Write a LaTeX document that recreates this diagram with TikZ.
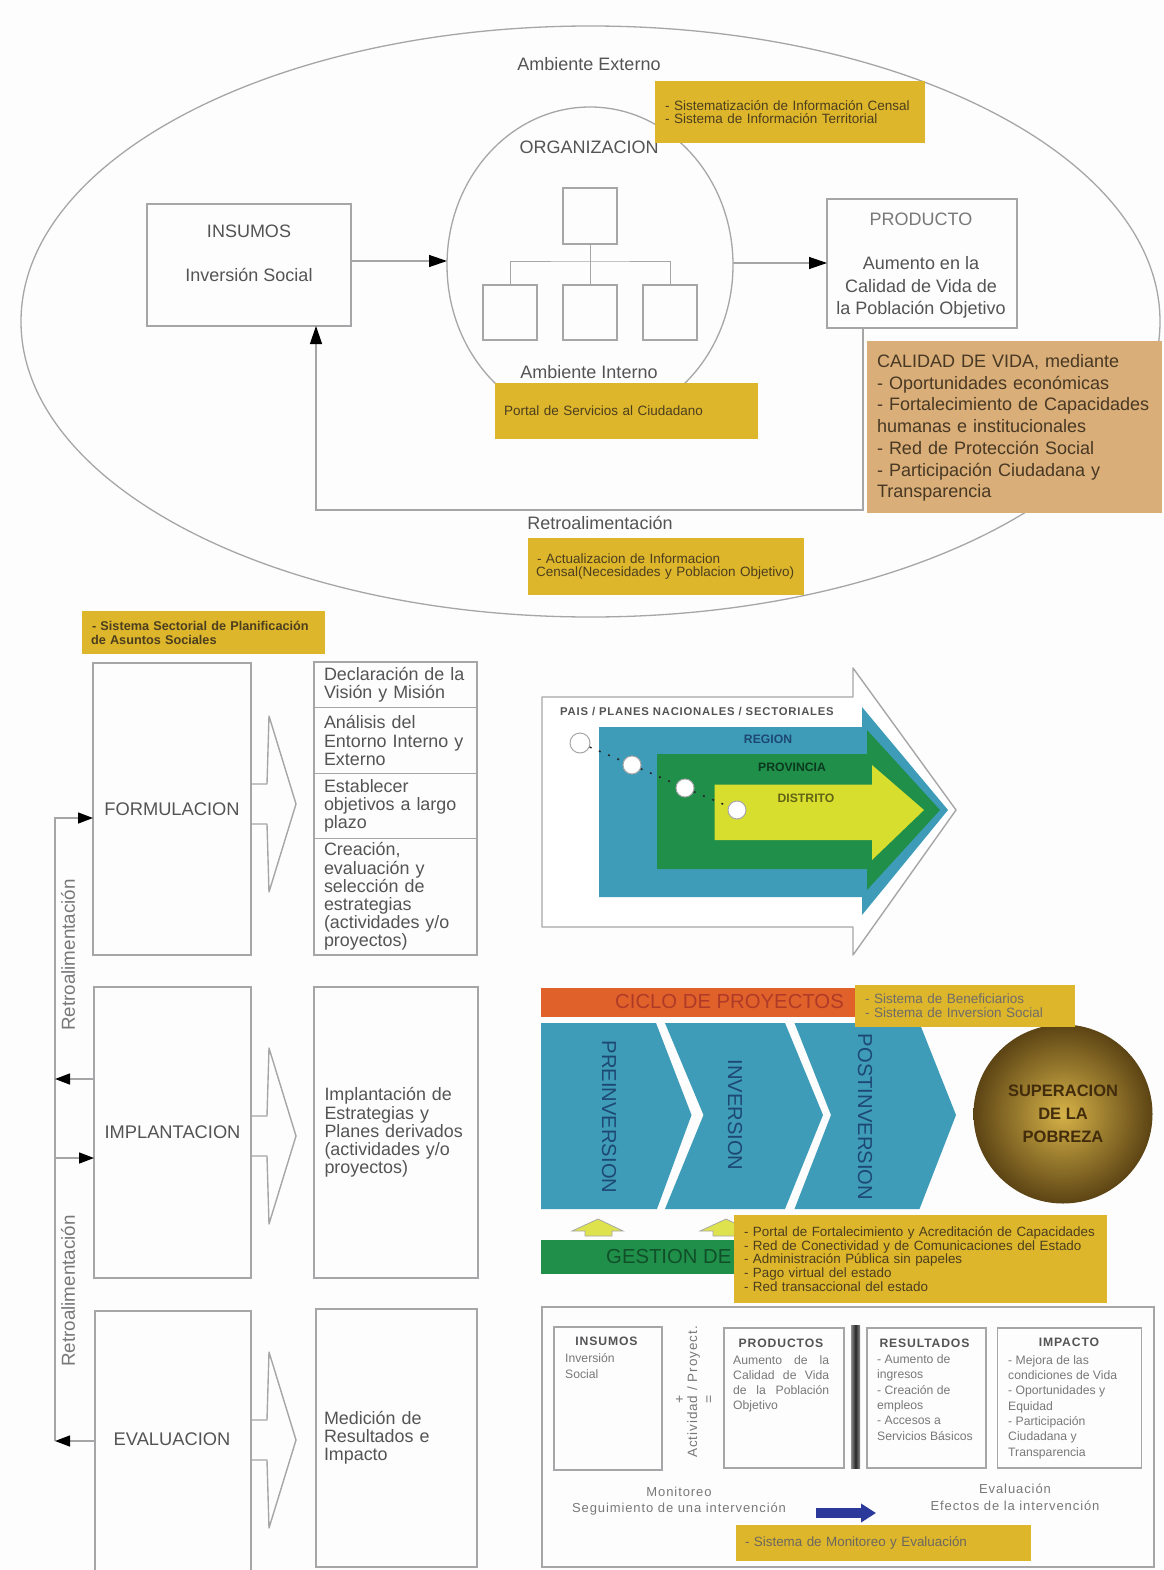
\documentclass[tikz,border=0pt]{standalone}
\usepackage{fontspec}
\setmainfont{Liberation Sans}
\newfontfamily\widefont[LetterSpace=7]{Liberation Sans}
\usepackage{xcolor}
\usetikzlibrary{arrows.meta, positioning, calc, shapes.geometric}
\definecolor{paper}{RGB}{253,253,253}
\definecolor{linegray}{RGB}{166,166,168}
\definecolor{inkgray}{RGB}{84,84,86}
\definecolor{softgray}{RGB}{120,120,122}
\definecolor{sysyellow}{RGB}{221,182,43}
\definecolor{sysink}{RGB}{76,62,30}
\definecolor{tanbox}{RGB}{217,174,120}
\definecolor{tanink}{RGB}{72,56,36}
\definecolor{tealblue}{RGB}{62,156,184}
\definecolor{leafgreen}{RGB}{31,143,74}
\definecolor{limeyellow}{RGB}{216,222,46}
\definecolor{redorange}{RGB}{224,98,42}
\definecolor{cicloink}{RGB}{176,58,40}
\definecolor{navyink}{RGB}{30,72,116}
\definecolor{fatblue}{RGB}{43,58,154}
\definecolor{ballmid}{RGB}{214,178,72}
\definecolor{ballrim}{RGB}{92,68,20}
\definecolor{ballink}{RGB}{66,44,12}
\newcommand{\fsz}[2]{\fontsize{#1}{#2}\selectfont}

\begin{document}
\begin{tikzpicture}[
  x=1pt,y=-1pt,
  box/.style={
    rectangle, draw=linegray, line width=1.4pt, fill=paper,
    inner sep=0pt, outer sep=0pt, text=inkgray
  },
  stackbox/.style={
    box, inner xsep=10pt, text width=143pt, align=left, minimum width=163pt,
    font=\fsz{17.9}{18.2}
  },
  stagebox/.style={box, font=\fsz{18.3}{18.5}},
  sysbox/.style={
    rectangle, fill=sysyellow, inner ysep=0pt, outer sep=0pt,
    align=left, text=sysink, font=\fsz{13.5}{13.6}
  },
  oval/.style={
    ellipse, draw=linegray, line width=1.3pt, inner sep=0pt, outer sep=0pt
  },
  arrow/.style={-{Triangle[length=18pt,width=12pt,black]}, draw=linegray, line width=1.3pt},
  railarrow/.style={-{Triangle[length=15pt,width=11pt,black]}, draw=linegray, line width=1.4pt},
  label/.style={text=inkgray, font=\fsz{18}{18}, inner sep=0pt},
  small/.style={text=softgray, align=left, inner sep=0pt, anchor=west, font=\fsz{12.2}{15.3}},
  head/.style={text=inkgray, inner sep=0pt, font=\widefont\bfseries\fsz{12.2}{13}},
  nest/.style={text=#1, inner sep=0pt, font=\bfseries\fsz{12.2}{12}},
  chevron/.style={fill=tealblue},
  stagetext/.style={rotate=-90, text=navyink, inner sep=0pt, font=\fsz{20.2}{20}},
  dot/.style={circle, draw=linegray, fill=white, line width=1pt, inner sep=0pt, minimum size=#1}
]
\useasboundingbox[fill=paper] (0,0) rectangle (1163,1570);

% ---- Upper panel: environment and organisation ----
\node[oval, minimum width=1139pt, minimum height=591pt] (externo) at (590.5,321.5) {};
\node[oval, minimum width=286pt, minimum height=316pt] (org) at (590,265) {};
\node[label] (externoT) at (589,64) {Ambiente Externo};
\node[label] (orgT) at (589,147) {ORGANIZACION};
\node[label] (internoT) at (589,372) {Ambiente Interno};
\node[label] (retroT) at (600,523) {Retroalimentación};

\node[box, minimum width=204pt, minimum height=122pt] (insumos) at (249,265) {};
\node[label] (insumosT) at (249,231) {INSUMOS};
\node[label] (inversionT) at (249,275) {Inversión Social};
\node[box, minimum width=190pt, minimum height=129pt] (producto) at (922,263.5) {};
\node[label, text=softgray] (productoT) at (921,219.5) {PRODUCTO};
\node[label, align=center, font=\fsz{18}{22.4}] (aumentoT) at (921,287.5) {Aumento en la\\Calidad de Vida de\\la Población Objetivo};

% ---- Organisation chart inside the circle ----
\node[box, line width=1.1pt, minimum width=54pt, minimum height=56pt] (jefe) at (590,216) {};
\foreach \o/\x in {o1/510, o2/590, o3/670}{
  \node[box, line width=1.1pt, minimum width=54pt, minimum height=55pt] (\o) at (\x,312.5) {};
}
\coordinate (orgBus) at (590,261);
\draw[draw=linegray, line width=1pt] (jefe.south) -- (o2.north);
\draw[draw=linegray, line width=1pt] (o1.north) |- (orgBus) -| (o3.north);

\coordinate (inTip) at ($(org.west)+(0,-4)$);
\coordinate (outStart) at ($(org.east)+(0,-2)$);
\draw[arrow] (inTip -| insumos.east) -- (inTip);
\draw[arrow] (outStart) -- (outStart -| producto.west);

% ---- Feedback below the organisation ----
\coordinate (fbStart) at ($(producto.south east)+(-154,0)$);
\coordinate (fbEnd) at ($(insumos.south)+(67,0)$);
\draw[arrow] (fbStart) -- ++(0,182) -| (fbEnd);

% ---- Yellow system boxes, upper panel ----
\node[sysbox, minimum width=270pt, minimum height=62pt, inner xsep=10pt, text width=250pt] (sysCensal) at (790,112)
  {- Sistematización de Información Censal\\- Sistema de Información Territorial};
\node[sysbox, minimum width=263pt, minimum height=56pt, inner xsep=9pt, text width=245pt] (sysPortal) at (626.5,411)
  {Portal de Servicios al Ciudadano};
\node[sysbox, minimum width=276pt, minimum height=57pt, inner xsep=8pt, text width=260pt] (sysActual) at (666,566.5)
  {\hspace*{1pt}- Actualizacion de Informacion\\Censal(Necesidades y Poblacion Objetivo)};
\node[rectangle, fill=tanbox, minimum width=295pt, minimum height=172pt, inner xsep=10pt, inner ysep=0pt,
  text width=275pt, align=left, text=tanink, font=\fsz{18}{21.7}] (calidad) at (1014.5,427)
  {\rule{0pt}{15pt}CALIDAD DE VIDA, mediante\\- Oportunidades económicas\\- Fortalecimiento de Capacidades\\humanas e institucionales\\- Red de Protección Social\\- Participación Ciudadana y\\Transparencia};

% ---- Stages on the left ----
\node[sysbox, minimum width=243pt, minimum height=43pt, inner xsep=9pt, text width=225pt, font=\bfseries\fsz{12.7}{14}] (sysSector) at (203.5,632.5)
  {\hspace*{1pt}- Sistema Sectorial de Planificación\\de Asuntos Sociales};

\node[stagebox, minimum width=158pt, minimum height=292pt] (form) at (172,809) {FORMULACION};
\node[stagebox, minimum width=157pt, minimum height=291pt] (impl) at (172.5,1132.5) {IMPLANTACION};
\node[stagebox, minimum width=156pt, minimum height=261pt, anchor=north] (eval) at (173,1311) {};
\node[label, font=\fsz{18.3}{18.5}] (evalT) at (172,1439) {EVALUACION};

\node[stackbox, minimum height=45.5pt] (vision) at (395.5,684.75) {Declaración de la\\Visión y Misión};
\node[stackbox, below=0pt of vision, minimum height=66pt] (analisis) {Análisis del\\Entorno Interno y\\Externo};
\node[stackbox, below=0pt of analisis, minimum height=65pt] (objetivos) {Establecer\\objetivos a largo\\plazo};
\node[stackbox, below=0pt of objetivos, minimum height=116.5pt] (creacion) {Creación,\\evaluación y\\selección de\\estrategias\\(actividades y/o\\proyectos)};
\node[stackbox, minimum height=291pt, minimum width=164pt] (estrategia) at (396,1132.5) {Implantación de\\Estrategias y\\Planes derivados\\(actividades y/o\\proyectos)};
\node[stackbox, minimum height=258pt, minimum width=161pt, inner xsep=8pt, text width=145pt] (medicion) at (396.5,1438) {Medición de\\Resultados e\\Impacto};

% ---- Open arrows from stage to description ----
\foreach \st/\ty in {form/804, impl/1136, eval/1440}{
  \coordinate (tip) at ($(\st.north east)+(45,0)$);
  \draw[draw=linegray, line width=1.4pt, line join=round]
    (\st.east |- 0,\ty+20) -- ++(16,0) -- ++(2,68) -- (tip |- 0,\ty) -- ++(-27,-88) -- ++(-2,68) -- (\st.east |- 0,\ty-20);
}

% ---- Feedback rail on the left ----
\coordinate (railTop) at (55,818);
\coordinate (railBottom) at (55,1441);
\coordinate (railOut) at (55,1079);
\coordinate (railIn) at (55,1158);
\draw[railarrow] (railBottom) -- (railTop) -- (railTop -| form.west);
\draw[railarrow] (railOut -| impl.west) -- (railOut);
\draw[railarrow] (railIn) -- (railIn -| impl.west);
\draw[railarrow] (railBottom -| eval.west) -- (railBottom);
\node[label, rotate=90, text=softgray, font=\fsz{18.8}{19}] (retroUno) at (68,955) {Retroalimentación};
\node[label, rotate=90, text=softgray, font=\fsz{18.8}{19}] (retroDos) at (68,1291) {Retroalimentación};

% ---- Nested arrows ----
\draw[draw=linegray, line width=1.4pt, fill=white, line join=round]
  (542,697) -- (853,697) -- (853,668) -- (956,810) -- (853,955) -- (853,927) -- (542,927) -- cycle;
\fill[tealblue] (599,727) -- (862,727) -- (862,707) -- (948,810) -- (862,915) -- (862,897) -- (599,897) -- cycle;
\fill[leafgreen] (657,754) -- (867,754) -- (867,730) -- (940,810) -- (867,890) -- (867,869) -- (657,869) -- cycle;
\fill[limeyellow] (714.5,784.5) -- (872,784.5) -- (872,765) -- (924,810) -- (872,860) -- (872,840) -- (714.5,840) -- cycle;
\node[inner sep=0pt, text=inkgray, font=\widefont\bfseries\fsz{11.3}{12}] (paisT) at (697,712) {PAIS / PLANES NACIONALES / SECTORIALES};
\node[nest=navyink] (regionT) at (768,739) {REGION};
\node[nest={leafgreen!40!black}] (provinciaT) at (792,767) {PROVINCIA};
\node[nest={limeyellow!45!black}] (distritoT) at (806,798) {DISTRITO};
\node[dot=20pt] (c0) at (580,743) {};
\foreach \c/\x/\y in {c1/632/765, c2/685/788, c3/737/810}{
  \node[dot=18pt] (\c) at (\x,\y) {};
}
\foreach \a/\b in {c0/c1, c1/c2, c2/c3}{
  \draw[dash pattern=on 2pt off 8pt, line width=1.5pt, black!85] (\a) -- (\b);
}

% ---- Project cycle ----
\node[rectangle, fill=redorange, minimum width=340pt, minimum height=29pt, inner sep=0pt] (ciclo) at (711,1002.5) {};
\node[inner sep=0pt, text=cicloink, font=\fsz{20.3}{20}] (cicloT) at (729.5,1002) {CICLO DE PROYECTOS};
\fill[chevron] (541,1023) -- (656,1023) -- (691.5,1115) -- (657,1209) -- (541,1209) -- cycle;
\fill[chevron] (665,1023) -- (785,1023) -- (823,1115) -- (785,1209) -- (665,1209) -- (703.5,1115) -- cycle;
\fill[chevron] (794.5,1023) -- (919.5,1023) -- (956,1115) -- (919.5,1209) -- (794.5,1209) -- (831,1115) -- cycle;
\node[stagetext] (preT) at (609,1117) {PREINVERSION};
\node[stagetext] (invT) at (735,1115) {INVERSION};
\node[stagetext] (postT) at (865,1117) {POSTINVERSION};
\node[circle, minimum size=179pt, inner sep=0pt, inner color=ballmid, outer color=ballrim,
  align=center, text=ballink, font=\bfseries\fsz{16.5}{23}] (pobreza) at (1063,1114) {SUPERACION\\DE LA\\POBREZA};
\node[sysbox, minimum width=220pt, minimum height=42.5pt, inner xsep=10pt, text width=200pt, text=softgray!80!sysink, font=\fsz{13.5}{14}] (sysBenef) at (965,1005.75)
  {- Sistema de Beneficiarios\\- Sistema de Inversion Social};

% ---- Management bar ----
\foreach \x in {598,726}{
  \draw[draw=linegray, fill=limeyellow!85!white, line width=0.8pt]
    (\x,1219) -- ++(25,12) -- ++(-11,0) -- ++(0,5) -- ++(-27,0) -- ++(0,-5) -- ++(-13,0) -- cycle;
}
\node[rectangle, fill=leafgreen, minimum width=200pt, minimum height=34pt, inner sep=0pt] (gestion) at (641,1257) {};
\node[inner sep=0pt, text=leafgreen!55!black, anchor=west, font=\fsz{20.3}{20}] (gestionT) at (606,1256) {GESTION DE};
\node[sysbox, minimum width=373pt, minimum height=88pt, inner xsep=10pt, text width=353pt, font=\fsz{13.4}{13.6}] (sysRed) at (920.5,1259)
  {- Portal de Fortalecimiento y Acreditación de Capacidades\\- Red de Conectividad y de Comunicaciones del Estado\\- Administración Pública sin papeles\\- Pago virtual del estado\\- Red transaccional del estado};

% ---- Results chain ----
\node[box, minimum width=612pt, minimum height=260pt] (panel) at (848,1437) {};
\node[box, minimum width=108pt, minimum height=143pt] (cInsumos) at (608,1398.5) {};
\node[box, minimum width=120pt, minimum height=140pt] (cProductos) at (784,1398) {};
\node[rectangle, minimum width=9pt, minimum height=143pt, inner sep=0pt,
  left color=black!45, right color=black!45, middle color=black!85] (divider) at (855.5,1396.5) {};
\node[box, minimum width=119pt, minimum height=140pt] (cResultados) at (926.5,1398) {};
\node[box, minimum width=144pt, minimum height=140pt] (cImpacto) at (1069.5,1398) {};

\node[head] (cInsumosT) at (606.5,1341) {INSUMOS};
\node[head] (cProductosT) at (781,1343) {PRODUCTOS};
\node[head] (cResultadosT) at (924.5,1343) {RESULTADOS};
\node[head] (cImpactoT) at (1069,1342) {IMPACTO};
\node[small] (cInsumosD) at (565,1366) {Inversión\\Social};
\node[small, anchor=north west, yshift=2pt] (cProductosD) at (733,1357)
  {\makebox[96pt][s]{Aumento de la}\\\makebox[96pt][s]{Calidad de Vida}\\\makebox[96pt][s]{de la Población}\\Objetivo};
\node[small] (cResultadosD) at (877,1397.5) {- Aumento de\\ingresos\\- Creación de\\empleos\\- Accesos a\\Servicios Básicos};
\node[small] (cImpactoD) at (1008,1407) {- Mejora de las\\condiciones de Vida\\- Oportunidades y\\Equidad\\- Participación\\Ciudadana y\\Transparencia};

\node[rotate=90, inner sep=0pt, text=softgray, font=\widefont\fsz{13.5}{14}] (actividadT) at (693.5,1392) {Actividad / Proyect.};
\node[rotate=90, inner sep=0pt, text=softgray, font=\fsz{14}{14}] (masT) at (680,1399) {+};
\node[rotate=90, inner sep=0pt, text=softgray, font=\fsz{14}{14}] (igualT) at (710,1399) {=};

\node[small, anchor=center, align=center, font=\widefont\fsz{13}{16.2}] (monitoreoT) at (679,1501) {Monitoreo\\Seguimiento de una intervención};
\node[small, anchor=center, align=center, font=\widefont\fsz{13}{16.8}] (evaluacionT) at (1015,1497.5) {Evaluación\\Efectos de la intervención};

\coordinate (fatStart) at (816,1513);
\coordinate (fatEnd) at (876,1513);
\draw[-{Triangle[length=15pt,width=18pt,fatblue]}, draw=fatblue, line width=10pt] (fatStart) -- (fatEnd);

\node[sysbox, minimum width=295pt, minimum height=36pt, inner xsep=9pt, text width=277pt, text=softgray!70!sysink, font=\fsz{13.4}{13.6}] (sysMonitoreo) at (883.5,1543)
  {- Sistema de Monitoreo y Evaluación};

\end{tikzpicture}
\end{document}
